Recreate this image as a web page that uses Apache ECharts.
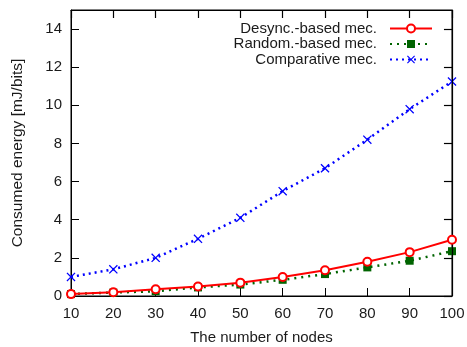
<!DOCTYPE html>
<html><head><meta charset="utf-8">
<script src="https://cdn.jsdelivr.net/npm/echarts@6/dist/echarts.min.js"></script>
<style>html,body{margin:0;padding:0;background:#fff}#c{width:467px;height:347px}</style>
</head><body><div id="c"></div>
<script>
const nodes = [10, 20, 30, 40, 50, 60, 70, 80, 90, 100];
const desync = [0.1, 0.2, 0.35, 0.5, 0.7, 1.0, 1.35, 1.8, 2.3, 2.95];
const random = [0.1, 0.18, 0.25, 0.45, 0.6, 0.85, 1.15, 1.5, 1.85, 2.35];
const comparative = [1.0, 1.4, 2.0, 3.0, 4.1, 5.5, 6.7, 8.2, 9.8, 11.25];
const yTicks = [0, 2, 4, 6, 8, 10, 12, 14];
const seriesNames = ['Desync.-based mec.', 'Random.-based mec.', 'Comparative mec.'];

const X_MIN = 10, X_MAX = 100, Y_MIN = 0, Y_MAX = 15;
const pair = arr => nodes.map((x, i) => [x, arr[i]]);
const font = 'Liberation Sans, Arial, sans-serif';
const txt = '#1a1a1a';
const fs = 15;
const xPath = 'path://M1,0L5,4L9,0L10,1L6,5L10,9L9,10L5,6L1,10L0,9L4,5L0,1Z';

// mirrored frame (top and right edges with inward ticks) via library coordinates
const tickLenY = 0.42, tickLenX = 1.9;
const frameLines = [
  [{coord: [X_MIN, Y_MAX]}, {coord: [X_MAX, Y_MAX]}],
  [{coord: [X_MAX, Y_MIN]}, {coord: [X_MAX, Y_MAX]}]
].concat(nodes.map(x => [{coord: [x, Y_MAX]}, {coord: [x, Y_MAX - tickLenY]}]))
 .concat(yTicks.map(y => [{coord: [X_MAX, y]}, {coord: [X_MAX - tickLenX, y]}]));

const axisLineStyle = {show: true, onZero: false, lineStyle: {color: '#000', width: 1}};
const tickStyle = {show: true, inside: true, length: 8, lineStyle: {color: '#000'}};

const chart = echarts.init(document.getElementById('c'));
chart.setOption({
  animation: false,
  grid: {left: 71, right: 15, top: 10, bottom: 51, outerBoundsMode: 'none',
    show: true, borderColor: '#000', borderWidth: 1},
  legend: {
    orient: 'vertical', right: 29, top: 16, align: 'right',
    itemWidth: 42, itemHeight: 10, itemGap: 0.5,
    textStyle: {fontFamily: font, fontSize: fs, color: txt, padding: [0, 8, 0, 0]},
    data: seriesNames
  },
  xAxis: [
    {type: 'value', min: X_MIN, max: X_MAX, interval: 10,
      name: 'The number of nodes', nameLocation: 'middle', nameGap: 34,
      nameTextStyle: {fontFamily: font, fontSize: fs, color: txt},
      axisLine: axisLineStyle, axisTick: tickStyle, splitLine: {show: false},
      axisLabel: {fontFamily: font, fontSize: fs, color: txt, margin: 10}},
    {type: 'value', min: X_MIN, max: X_MAX, interval: 10, position: 'top',
      axisLine: axisLineStyle, axisTick: tickStyle, splitLine: {show: false},
      axisLabel: {color: 'rgba(0,0,0,0)'}}
  ],
  yAxis: [
    {type: 'value', min: Y_MIN, max: Y_MAX, interval: 2,
      name: 'Consumed energy [mJ/bits]', nameLocation: 'middle', nameGap: 45,
      nameTextStyle: {fontFamily: font, fontSize: 15.5, color: txt},
      axisLine: axisLineStyle, axisTick: tickStyle, splitLine: {show: false},
      axisLabel: {fontFamily: font, fontSize: fs, color: txt, margin: 9,
        showMaxLabel: false}},
    {type: 'value', min: Y_MIN, max: Y_MAX, interval: 2, position: 'right',
      axisLine: axisLineStyle, axisTick: tickStyle, splitLine: {show: false},
      axisLabel: {color: 'rgba(0,0,0,0)'}}
  ],
  series: [
    {name: seriesNames[0], type: 'line', data: pair(desync), z: 5,
      symbol: 'emptyCircle', symbolSize: 8, showAllSymbol: true,
      lineStyle: {color: '#ff0000', width: 2},
      itemStyle: {color: '#ff0000', borderColor: '#ff0000', borderWidth: 1.5}},
    {name: seriesNames[1], type: 'line', data: pair(random), z: 4,
      symbol: 'rect', symbolSize: 8, showAllSymbol: true,
      lineStyle: {color: '#006400', width: 2.5, type: [2, 5]},
      itemStyle: {color: '#006400'}},
    {name: seriesNames[2], type: 'line', data: pair(comparative), z: 3,
      symbol: xPath, symbolSize: 9, showAllSymbol: true,
      lineStyle: {color: '#0000ff', width: 2.5, type: [2, 4]},
      itemStyle: {color: '#0000ff'},
      markLine: {
        silent: true, symbol: ['none', 'none'], animation: false,
        label: {show: false},
        emphasis: {disabled: true},
        lineStyle: {color: '#000', width: 1.2, type: 'solid'},
        data: frameLines
      }}
  ]
});
</script></body></html>
